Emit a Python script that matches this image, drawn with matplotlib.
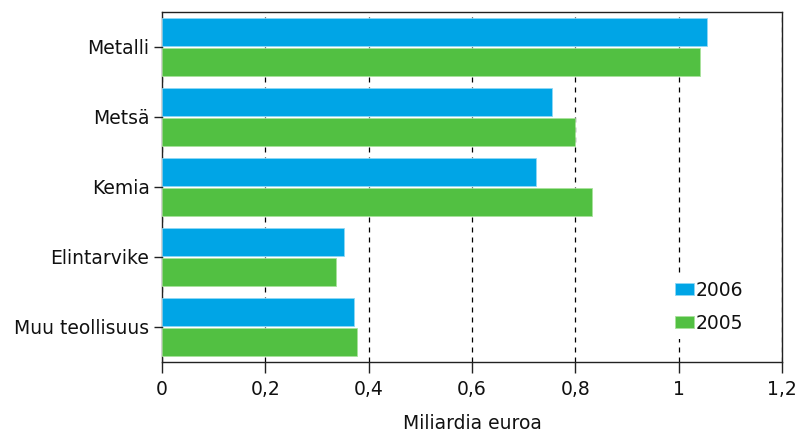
import matplotlib
matplotlib.use('Agg')
import matplotlib.pyplot as plt
import numpy as np
from matplotlib.ticker import FuncFormatter

plt.rcParams['font.family'] = ['DejaVu Sans']

# Data (billion euros)
categories = ['Metalli', 'Metsä', 'Kemia', 'Elintarvike', 'Muu teollisuus']
values_2006 = [1.054, 0.755, 0.724, 0.353, 0.372]
values_2005 = [1.041, 0.799, 0.833, 0.336, 0.378]
years = ['2006', '2005']

blue = '#00a5e6'
green = '#52c042'
fs = 13.5

fig = plt.figure(figsize=(7.98, 4.34), dpi=100)
ax = fig.add_axes([162 / 798, 1 - 362 / 434, 620 / 798, 350 / 434])

y = np.arange(len(categories))
h = 0.40
ax.barh(y - h / 2 - 0.01, values_2006, height=h, color=blue,
        edgecolor='#8fd8f5', linewidth=0.6, label=years[0], zorder=3)
ax.barh(y + h / 2 + 0.01, values_2005, height=h, color=green,
        edgecolor='#a8e29c', linewidth=0.6, label=years[1], zorder=3)

ax.set_ylim(len(categories) - 0.5, -0.5)
ax.set_xlim(0, 1.2)
ax.set_yticks(y)
ax.set_yticklabels(categories)
ax.set_xticks(np.arange(0, 1.21, 0.2))
ax.xaxis.set_major_formatter(FuncFormatter(
    lambda v, p: ('%g' % round(v, 1)).replace('.', ',')))

ax.grid(axis='x', color='black', linestyle=(0, (4, 4)), linewidth=0.9, zorder=0)
ax.set_axisbelow(True)

for s in ax.spines.values():
    s.set_color('#222222')
    s.set_linewidth(1.0)

ax.tick_params(axis='x', length=8, width=1, direction='out', labelsize=fs, pad=5, colors='#222222')
ax.tick_params(axis='y', length=6, width=1, direction='out', labelsize=fs, pad=3, colors='#222222')
for lbl in ax.get_xticklabels() + ax.get_yticklabels():
    lbl.set_color('#111111')

ax.set_xlabel('Miliardia euroa', fontsize=fs, labelpad=11, color='#111111')

leg = ax.legend(loc='lower right', bbox_to_anchor=(0.962, 0.04), fontsize=fs,
                frameon=True, facecolor='white', edgecolor='white', framealpha=1,
                handlelength=1.0, handleheight=0.6, handletextpad=0.1,
                labelspacing=0.75, borderpad=0.3)
leg.get_frame().set_linewidth(0)
for t in leg.get_texts():
    t.set_color('#111111')

fig.savefig('out.png', dpi=100)
